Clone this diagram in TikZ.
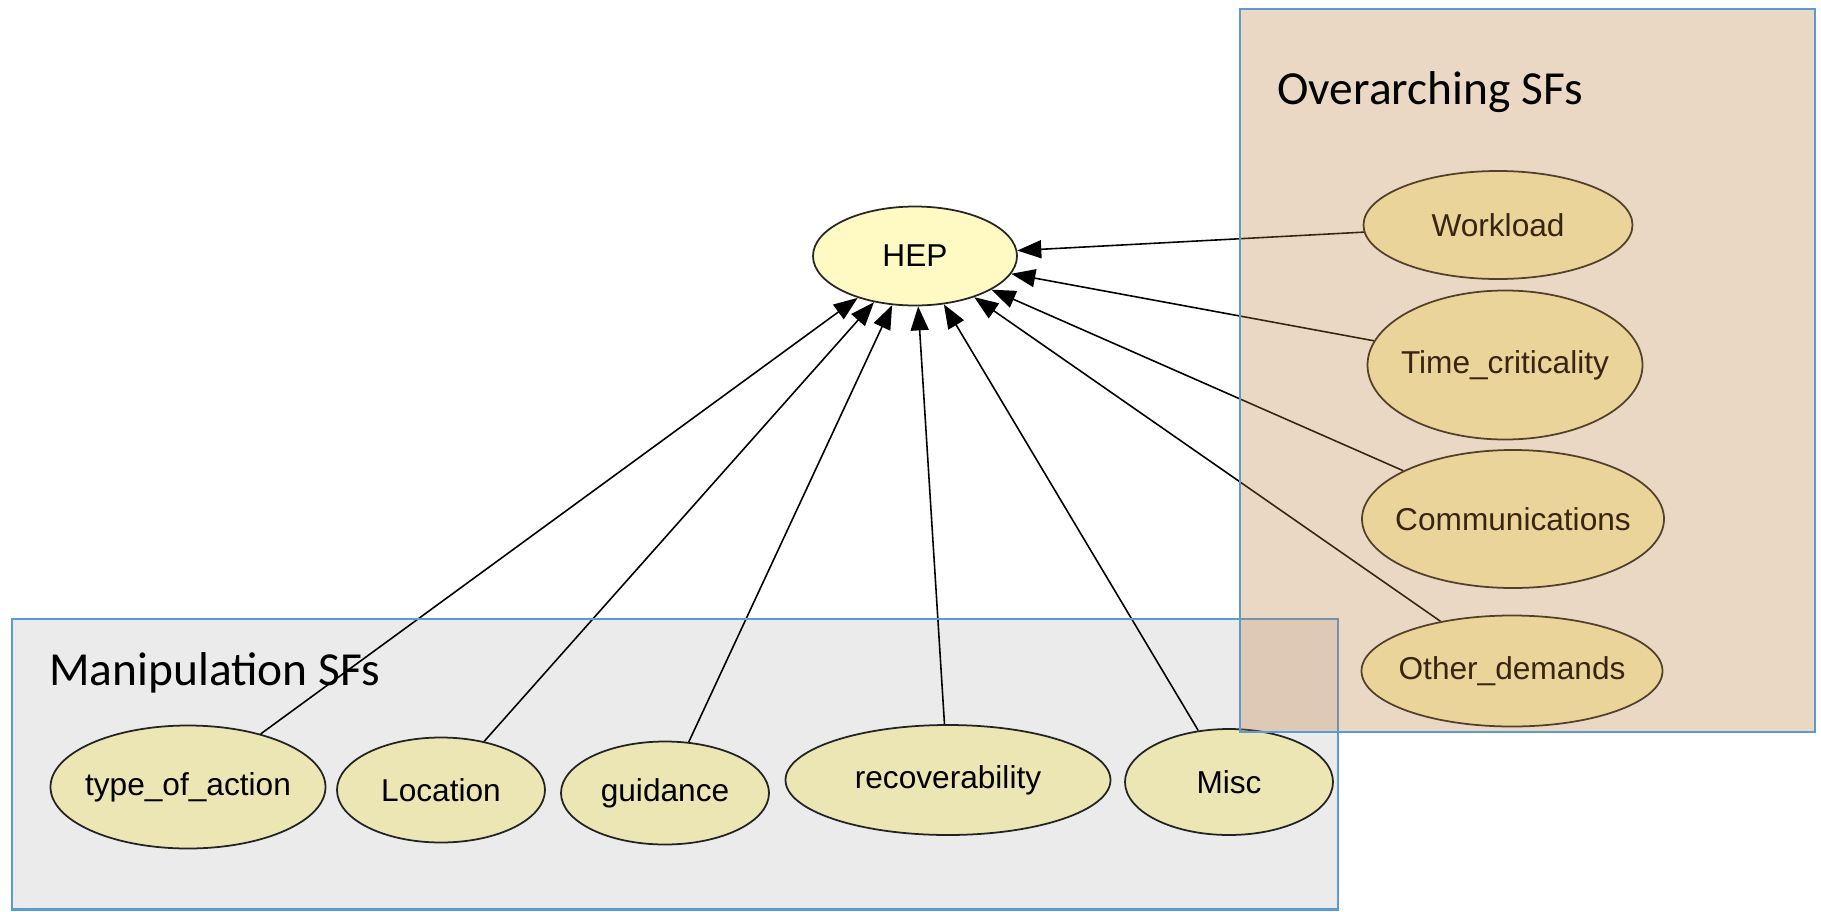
\documentclass[tikz,border=0pt]{standalone}
\usepackage{fontspec}
\usepackage{tikz}
\usetikzlibrary{shapes.geometric, arrows.meta, positioning}
\newfontfamily\netfont{Liberation Sans}
\newfontfamily\framefont{Carlito}
\definecolor{Net_Yellow}{RGB}{255,250,195}
\definecolor{Frame_Blue}{RGB}{91,155,213}
\definecolor{Frame_Tan}{RGB}{188,125,58}
\newcommand{\sfname}[1]{\makebox[0pt]{#1}}

\begin{document}
\begin{tikzpicture}[
    sf/.style={ellipse, draw=black!85, line width=0.5pt, fill=Net_Yellow,
               inner sep=0pt, font=\netfont\fontsize{9}{11}\selectfont},
    arrow/.style={-{Triangle[length=2.4mm, width=1.8mm]}, line width=0.45pt, black},
    frame/.style={draw=Frame_Blue, line width=0.6pt},
    framelabel/.style={anchor=base west, font=\framefont\fontsize{13.5}{16}\selectfont}
]
\useasboundingbox (0,0) rectangle (18.21,9.11);

% Target node
\node[sf, minimum width=2.04cm, minimum height=0.99cm] (hep) at (9.15,6.55) {\sfname{HEP}};

% Right column - Overarching SFs
\node[sf, minimum width=2.69cm, minimum height=1.08cm] (workload) at (14.98,6.86) {\sfname{Workload}};
\node[sf, minimum width=2.75cm, minimum height=1.49cm] (timecrit) at (15.05,5.46) {\sfname{Time\_criticality}};
\node[sf, minimum width=3.02cm, minimum height=1.38cm] (comms) at (15.13,3.92) {\sfname{Communications}};
\node[sf, minimum width=3.01cm, minimum height=1.11cm] (otherdem) at (15.12,2.40) {\sfname{Other\_demands}};

% Bottom row - Manipulation SFs
\node[sf, minimum width=2.75cm, minimum height=1.23cm] (action) at (1.88,1.24) {\sfname{type\_of\_action}};
\node[sf, minimum width=2.08cm, minimum height=1.05cm] (location) at (4.41,1.21) {\sfname{Location}};
\node[sf, minimum width=2.08cm, minimum height=1.03cm] (guidance) at (6.65,1.18) {\sfname{guidance}};
\node[sf, minimum width=3.25cm, minimum height=1.10cm] (recover) at (9.48,1.31) {\sfname{recoverability}};
\node[sf, minimum width=2.08cm, minimum height=1.06cm] (misc) at (12.29,1.29) {\sfname{Misc}};

% Arrows
\draw[arrow] (workload) -- (hep);
\draw[arrow] (timecrit) -- (hep);
\draw[arrow] (comms) -- (hep);
\draw[arrow] (otherdem) -- (hep);
\draw[arrow] (action) -- (hep);
\draw[arrow] (location) -- (hep);
\draw[arrow] (guidance) -- (hep);
\draw[arrow] (recover) -- (hep);
\draw[arrow] (misc) -- (hep);

% Group frames
\draw[frame, fill=black, fill opacity=0.08] (0.12,0.015) rectangle (13.38,2.92);
\draw[frame, fill=Frame_Tan, fill opacity=0.3] (12.40,1.79) rectangle (18.15,9.02);
\node[framelabel] (manlabel) at (0.37,2.26) {Manipulation SFs};
\node[framelabel] (overlabel) at (12.65,8.07) {Overarching SFs};

\end{tikzpicture}
\end{document}
